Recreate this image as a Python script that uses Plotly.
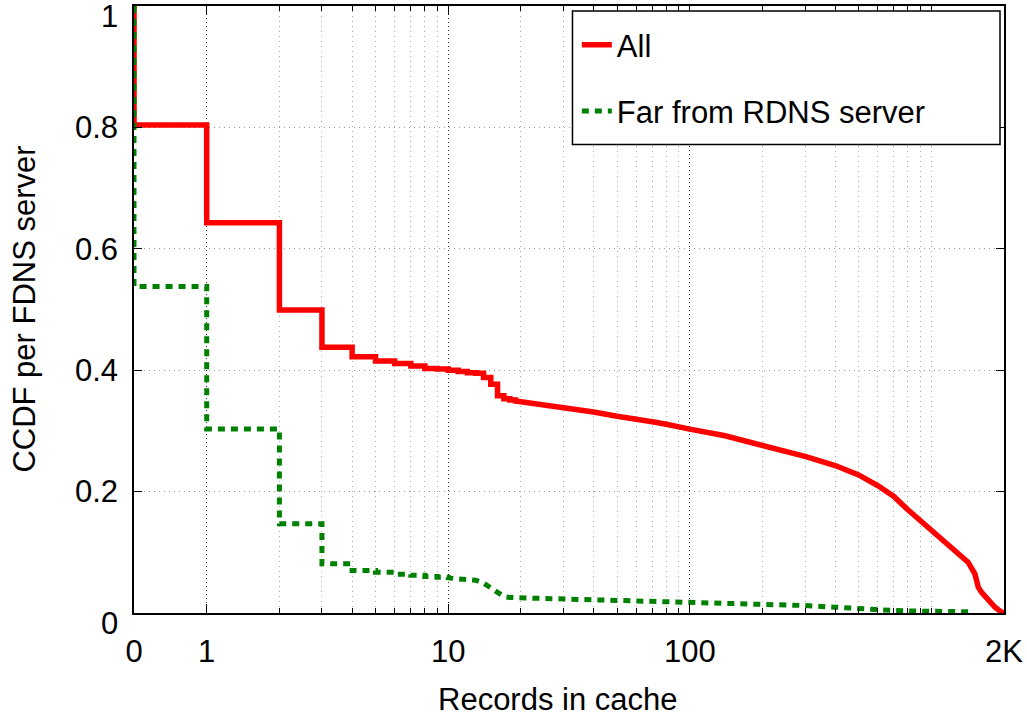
import numpy as np
import plotly.graph_objects as go

# Record count 0 cannot sit on a log axis; it is drawn at this position instead
ZERO_POS = 0.5
X_MAX = 2000

# "All": CCDF per FDNS server, integer steps first, then the smooth tail
all_step_x = [0, 1, 2, 3, 4, 5, 6, 7, 8, 9, 10, 11, 12, 13, 14, 15, 16, 17, 18, 19]
all_step_y = [0.804, 0.643, 0.499, 0.438, 0.422, 0.415, 0.411, 0.407, 0.403, 0.402,
              0.400, 0.398, 0.396, 0.395, 0.388, 0.377, 0.358, 0.353, 0.351, 0.349]
all_tail_x = [20, 30, 40, 50, 60, 70, 80, 90, 100, 140, 200, 234, 274, 300, 400, 500,
              600, 700, 800, 900, 1000, 1140, 1290, 1420, 1515, 1565, 1615, 1720, 1835,
              1953, 2000]
all_tail_y = [0.348, 0.339, 0.331, 0.324, 0.320, 0.315, 0.311, 0.3075, 0.303, 0.292,
              0.277, 0.269, 0.263, 0.258, 0.243, 0.2275, 0.210, 0.192, 0.170, 0.152,
              0.136, 0.117, 0.0985, 0.0837, 0.0645, 0.0425, 0.034, 0.0206, 0.0095,
              0.0013, 0.0]

# "Far from RDNS server"
far_step_x = [0, 1, 2, 3, 4, 5, 6, 7, 8, 9, 10]
far_step_y = [0.538, 0.303, 0.147, 0.081, 0.070, 0.067, 0.064, 0.062, 0.060, 0.059, 0.058]
far_tail_x = [11, 12, 13, 14, 15, 16, 17, 18, 20, 30, 50, 80, 100, 130, 200, 300, 400,
              500, 600, 700, 800, 1000, 1460]
far_tail_y = [0.056, 0.055, 0.054, 0.0495, 0.042, 0.034, 0.027, 0.0255, 0.025, 0.024,
              0.022, 0.020, 0.019, 0.017, 0.015, 0.0123, 0.0096, 0.0069, 0.0053, 0.0041,
              0.0033, 0.0025, 0.002]

# Axis ticks
x_tick_vals = [0, 1, 10, 100, 2000]
x_tick_text = ["0", "1", "10", "100", "2K"]
x_minor_vals = [2, 3, 4, 5, 6, 7, 8, 9, 20, 30, 40, 50, 60, 70, 80, 90,
                200, 300, 400, 500, 600, 700, 800, 900, 1000]
y_tick_vals = [0.2, 0.4, 0.6, 0.8]
y_edge_vals = [0, 1]

FONT = "Liberation Sans, Arial, Helvetica, sans-serif"
FS = 31


def to_axis(xs):
    xs = np.asarray(xs, dtype=float)
    return np.where(xs == 0, ZERO_POS, xs)


def ccdf_path(step_x, step_y, tail_x, tail_y):
    """Expand the integer steps into corner points, then append the tail."""
    px, py = [step_x[0]], [1.0]
    for i, (x, y) in enumerate(zip(step_x, step_y)):
        if i > 0:
            px.append(x)
            py.append(step_y[i - 1])
        px.append(x)
        py.append(y)
    px += list(tail_x)
    py += list(tail_y)
    return to_axis(px), np.asarray(py)


ax, ay = ccdf_path(all_step_x, all_step_y, all_tail_x, all_tail_y)
fx, fy = ccdf_path(far_step_x, far_step_y, far_tail_x, far_tail_y)

fig = go.Figure()
fig.add_trace(go.Scatter(
    x=ax, y=ay, mode="lines", name="All", legendgroup="all",
    line=dict(color="#ff0000", width=5.5),
))
fig.add_trace(go.Scatter(
    x=fx, y=fy, mode="lines", name="Far from RDNS server", legendgroup="far",
    line=dict(color="#008000", width=5, dash="7px,6px"),
))

fig.update_layout(
    width=1027, height=717,
    margin=dict(l=134, r=22, t=4, b=104),
    paper_bgcolor="white", plot_bgcolor="white",
    font=dict(family=FONT, size=FS, color="black"),
    showlegend=True,
    legend=dict(
        x=0.509, y=0.980, xanchor="left", yanchor="top",
        bgcolor="rgba(0,0,0,0)", borderwidth=0,
        font=dict(family=FONT, size=FS, color="black"),
        tracegroupgap=23, traceorder="grouped",
    ),
    shapes=[dict(
        type="rect", xref="paper", yref="paper",
        x0=0.504, x1=0.9954, y0=0.7718, y1=0.9918,
        line=dict(color="black", width=1.5), fillcolor="white", layer="above",
    )],
)

fig.update_xaxes(
    type="log",
    range=[np.log10(ZERO_POS), np.log10(X_MAX)],
    tickmode="array", tickvals=to_axis(x_tick_vals), ticktext=x_tick_text,
    ticks="inside", ticklen=9, tickwidth=1.2, tickcolor="black",
    ticklabelstandoff=10,
    showline=True, linecolor="black", linewidth=1.5, mirror="ticks",
    showgrid=True, gridcolor="#333333", gridwidth=1, griddash="1px,3px",
    zeroline=False,
    minor=dict(
        tickmode="array", tickvals=x_minor_vals,
        ticks="inside", ticklen=5, tickwidth=1, tickcolor="black",
        showgrid=True, gridcolor="#aaaaaa", gridwidth=1, griddash="1px,4px",
    ),
    tickfont=dict(family=FONT, size=FS, color="black"),
)
fig.update_yaxes(
    range=[0, 1],
    tickmode="array", tickvals=y_tick_vals, tickformat=".1f",
    ticks="inside", ticklen=8, tickwidth=1.2, tickcolor="black",
    ticklabelstandoff=8,
    showline=True, linecolor="black", linewidth=1.5, mirror="ticks",
    showgrid=True, gridcolor="#999999", gridwidth=1, griddash="1px,4px",
    zeroline=False,
    tickfont=dict(family=FONT, size=FS, color="black"),
)

annotations = []
# Labels for the axis ends, set slightly below their gridline positions
for v in y_edge_vals:
    annotations.append(dict(
        x=0, xref="paper", xanchor="right", xshift=-14,
        y=v, yref="y", yanchor="middle", yshift=-10,
        text=f"{v:g}", showarrow=False,
        font=dict(family=FONT, size=FS, color="black"),
    ))
annotations.append(dict(
    x=0.487, xref="paper", xanchor="center",
    y=-0.143, yref="paper", yanchor="middle",
    text="Records in cache", showarrow=False,
    font=dict(family=FONT, size=FS, color="black"),
))
annotations.append(dict(
    x=-0.1263, xref="paper", xanchor="center",
    y=0.5, yref="paper", yanchor="middle",
    text="CCDF per FDNS server", showarrow=False, textangle=-90,
    font=dict(family=FONT, size=FS, color="black"),
))
fig.update_layout(annotations=annotations)

fig.write_html("out.html")
